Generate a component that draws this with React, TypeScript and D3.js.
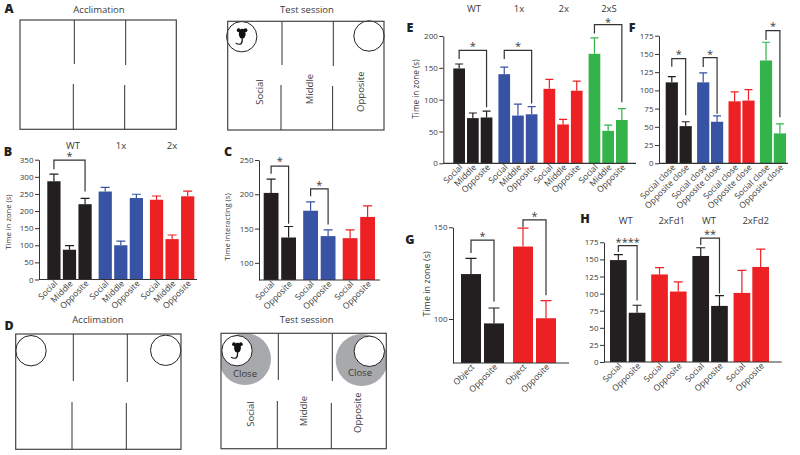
import React, { useEffect, useRef } from 'react';
import * as d3 from 'd3';

// bar heights and error tops
const threeZones = ['Social', 'Middle', 'Opposite'];
const twoZones = ['Social', 'Opposite'];
const closeZones = ['Social close', 'Opposite close'];
const objectZones = ['Object', 'Opposite'];

const bValues = [[287, 87, 220], [257, 100, 238], [233, 118, 243]];
const bErrors = [[308, 99, 237], [269, 112, 249], [244, 130, 258]];
const bTicks = [0, 50, 100, 150, 200, 250, 300, 350];

const cValues = [[202, 137], [176, 139], [136, 167]];
const cErrors = [[222, 153], [189, 148], [148, 183]];
const cTicks = [100, 150, 200, 250];

const eValues = [[149, 71, 72], [140, 75, 77], [117, 61, 114], [172, 51, 68]];
const eErrors = [[156, 79, 82], [151, 93, 89], [132, 69, 129], [197, 60, 86]];
const eTicks = [0, 50, 100, 150, 200];

const fValues = [[111, 51], [111, 57], [85, 86], [141, 41]];
const fErrors = [[119, 57], [124, 65], [98, 101], [166, 54]];
const fTicks = [0, 25, 50, 75, 100, 125, 150, 175];

const gValues = [[124.5, 97.6], [139.5, 100.4]];
const gErrors = [[133, 106], [149.5, 110]];
const gTicks = [100, 150];

const hValues = [[149, 72], [128, 103], [155, 82], [101, 139]];
const hErrors = [[157, 83], [138, 117], [167, 97], [134, 165]];
const hTicks = [0, 25, 50, 75, 100, 125, 150, 175];

const BLACK = '#231f20';
const BLUE = '#3953a4';
const RED = '#ed2024';
const GREEN = '#34b34a';
const INK = '#3a3a3a';

const panels = [
  {
    values: bValues, errors: bErrors, ticks: bTicks, zones: threeZones,
    colors: [BLACK, BLUE, RED], domain: [0, 350], yLabel: 'Time in zone (s)',
    axisX: 39, axisEnd: 197, y0: 279.5, yTop: 159.7, x0: 47.3, x1: 194.3, outerPad: 0.135, innerPad: 0.15, cap: 9,
    labelX: 9, labelY: 222, labelSize: 7.6, topY: 146,
    groups: [['WT', 73], ['1x', 121], ['2x', 172]],
    brackets: [{ from: 0, to: 2, top: 349, left: 322, right: 257, mark: '*', markOffset: 5 }],
  },
  {
    values: cValues, errors: cErrors, ticks: cTicks, zones: twoZones,
    colors: [BLACK, BLUE, RED], domain: [75, 250], yLabel: 'Time interacting (s)',
    axisX: 259, axisEnd: 380, y0: 280, yTop: 160, x0: 263.7, x1: 375, outerPad: 0.182, innerPad: 0.154, cap: 9,
    labelX: 228, labelY: 227, labelSize: 7.6, topY: 146, groups: [],
    brackets: [
      { from: 0, to: 1, top: 241, left: 230, right: 157, mark: '*', markOffset: 6 },
      { from: 2, to: 3, top: 208, left: 197, right: 156, mark: '*', markOffset: 5 },
    ],
  },
  {
    values: eValues, errors: eErrors, ticks: eTicks, zones: threeZones,
    colors: [BLACK, BLUE, RED, GREEN], domain: [0, 200], yLabel: 'Time in zone (s)',
    axisX: 443.3, axisEnd: 636, y0: 163.3, yTop: 36, x0: 453.3, x1: 627.7, outerPad: 0.133, innerPad: 0.146, cap: 8,
    labelX: 417, labelY: 89, labelSize: 8.2, topY: 9,
    groups: [['WT', 474], ['1x', 519], ['2x', 563.7], ['2xS', 609]],
    brackets: [
      { from: 0, to: 2, top: 177.5, left: 164, right: 88, mark: '*', markOffset: 5 },
      { from: 3, to: 5, top: 177.5, left: 164, right: 94, mark: '*', markOffset: 5 },
      { from: 9, to: 11, top: 218, left: 204, right: 96, mark: '*', markOffset: 4 },
    ],
  },
  {
    values: fValues, errors: fErrors, ticks: fTicks, zones: closeZones,
    colors: [BLACK, BLUE, RED, GREEN], domain: [0, 175], yLabel: '',
    axisX: 659, axisEnd: 788, y0: 163.3, yTop: 35.7, x0: 665.7, x1: 786, outerPad: 0.17, innerPad: 0.12, cap: 8,
    labelX: 0, labelY: 0, labelSize: 9, topY: 9, groups: [],
    brackets: [
      { from: 0, to: 1, top: 143.5, left: 132.5, right: 66, mark: '*', markOffset: 6 },
      { from: 2, to: 3, top: 145, left: 132, right: 68, mark: '*', markOffset: 5 },
      { from: 6, to: 7, top: 182, left: 169, right: 63, mark: '*', markOffset: 6 },
    ],
  },
  {
    values: gValues, errors: gErrors, ticks: gTicks, zones: objectZones,
    colors: [BLACK, RED], domain: [76, 150], yLabel: 'Time in zone (s)',
    axisX: 453, axisEnd: 569, y0: 363, yTop: 227.3, x0: 461, x1: 556, outerPad: 0.173, innerPad: 0.13, cap: 11,
    labelX: 428, labelY: 284, labelSize: 9, topY: 0, groups: [],
    brackets: [
      { from: 0, to: 1, top: 143, left: 136, right: 109.5, mark: '*', markOffset: 5 },
      { from: 2, to: 3, top: 154, left: 150, right: 113, mark: '*', markOffset: 5 },
    ],
  },
  {
    values: hValues, errors: hErrors, ticks: hTicks, zones: twoZones,
    colors: [BLACK, RED, BLACK, RED], domain: [0, 175], yLabel: '',
    axisX: 604, axisEnd: 781.7, y0: 362, yTop: 242.3, x0: 610, x1: 769, outerPad: 0.14, innerPad: 0.11, cap: 9,
    labelX: 0, labelY: 0, labelSize: 9, topY: 221.7,
    groups: [['WT', 625.7], ['2xFd1', 671.7], ['WT', 709], ['2xFd2', 755.7]],
    brackets: [
      { from: 0, to: 1, top: 170, left: 161, right: 90, mark: '****', markOffset: 5 },
      { from: 4, to: 5, top: 181, left: 171, right: 100, mark: '**', markOffset: 5 },
    ],
  },
];

const panelLetters = [
  ['A', 9, 10], ['B', 8, 153], ['C', 228, 153], ['D', 9, 327],
  ['E', 410, 29], ['F', 632, 29], ['G', 410, 241], ['H', 585, 220],
];

// arena schematics: chamber box, divider walls, cups and zone names
const arenas = [
  {
    title: 'Acclimation', titleX: 99, titleY: 10, box: [20, 20, 176.3, 129.3],
    walls: [[74.3, 64, 73.3, 84], [125.7, 65, 124.7, 85]], cups: [], halos: [], closes: [], mouse: null, zones: [],
  },
  {
    title: 'Test session', titleX: 307, titleY: 10, box: [227.7, 21.3, 384, 130],
    walls: [[282, 65, 281, 85], [333.3, 66, 332.6, 86]],
    cups: [[241.7, 36.7], [369, 36]], halos: [], closes: [], mouse: [241.7, 36.7],
    zones: [['Social', 260.7, 92], ['Middle', 310.7, 89], ['Opposite', 361.7, 91.7]],
  },
  {
    title: 'Acclimation', titleX: 98, titleY: 320.7, box: [15.7, 334, 181, 449.3],
    walls: [[73.3, 381, 72, 402], [127.3, 382, 126.3, 403]],
    cups: [[31, 350.7], [165.7, 350.3]], halos: [], closes: [], mouse: null, zones: [],
  },
  {
    title: 'Test session', titleX: 306.7, titleY: 320.7, box: [221, 333.3, 386.3, 448.7],
    walls: [[278.3, 380, 277.3, 401], [332.3, 381, 331.3, 403]],
    cups: [[237, 350.7], [369.3, 351.3]], halos: [[245, 359], [361.7, 360]],
    closes: [[245, 374], [360, 373]], mouse: [237, 350.7],
    zones: [['Social', 251.7, 414], ['Middle', 304, 411], ['Opposite', 358.3, 412.7]],
  },
];

const FONT = '"Open Sans", "Noto Sans", sans-serif';

function drawPanel(svg, p) {
  const y = d3.scaleLinear().domain(p.domain).range([p.y0, p.yTop]);
  const outer = d3.scaleBand().domain(d3.range(p.values.length)).range([p.x0, p.x1]).paddingInner(p.outerPad);
  const inner = d3.scaleBand().domain(d3.range(p.zones.length)).range([0, outer.bandwidth()]).paddingInner(p.innerPad);

  const bars = p.values.flatMap((group, g) =>
    group.map((v, i) => ({
      value: v,
      error: p.errors[g][i],
      zone: p.zones[i],
      color: p.colors[g],
      x: outer(g) + inner(i),
    }))
  );
  const cx = (d) => d.x + inner.bandwidth() / 2;

  const g = svg.append('g');

  g.selectAll('.err')
    .data(bars)
    .enter()
    .append('path')
    .attr('d', (d) => `M${cx(d)},${y(d.value)}V${y(d.error)}M${cx(d) - p.cap / 2},${y(d.error)}H${cx(d) + p.cap / 2}`)
    .attr('fill', 'none')
    .attr('stroke', (d) => d.color)
    .attr('stroke-width', 1.2);

  g.selectAll('.bar')
    .data(bars)
    .enter()
    .append('rect')
    .attr('x', (d) => d.x)
    .attr('y', (d) => y(d.value))
    .attr('width', inner.bandwidth())
    .attr('height', (d) => p.y0 - y(d.value))
    .attr('fill', (d) => d.color);

  const axis = g.append('g')
    .attr('transform', `translate(${p.axisX},0)`)
    .call(d3.axisLeft(y).tickValues(p.ticks).tickSize(4).tickPadding(1.5).tickFormat(d3.format('d')).tickSizeOuter(0));
  axis.selectAll('text').attr('font-family', FONT).attr('font-size', 8).attr('fill', INK);
  axis.selectAll('line,path').attr('stroke', '#333').attr('stroke-width', 1);

  g.append('line')
    .attr('x1', p.axisX).attr('x2', p.axisEnd)
    .attr('y1', p.y0).attr('y2', p.y0)
    .attr('stroke', '#333').attr('stroke-width', 1.2);

  g.selectAll('.zone')
    .data(bars)
    .enter()
    .append('text')
    .attr('transform', (d) => `translate(${cx(d) + 4},${p.y0 + 4.5}) rotate(-45)`)
    .attr('text-anchor', 'end')
    .attr('font-family', FONT)
    .attr('font-size', 8.5)
    .attr('fill', INK)
    .text((d) => d.zone);

  if (p.yLabel) {
    g.append('text')
      .attr('transform', `translate(${p.labelX},${p.labelY}) rotate(-90)`)
      .attr('text-anchor', 'middle')
      .attr('dominant-baseline', 'middle')
      .attr('font-family', FONT)
      .attr('font-size', p.labelSize)
      .attr('fill', INK)
      .text(p.yLabel);
  }

  g.selectAll('.group')
    .data(p.groups)
    .enter()
    .append('text')
    .attr('x', (d) => d[1])
    .attr('y', p.topY)
    .attr('text-anchor', 'middle')
    .attr('dominant-baseline', 'middle')
    .attr('font-family', FONT)
    .attr('font-size', 9.5)
    .attr('fill', INK)
    .text((d) => d[0]);

  p.brackets.forEach((b) => {
    const xa = cx(bars[b.from]);
    const xb = cx(bars[b.to]);
    g.append('path')
      .attr('d', `M${xa},${y(b.left)}V${y(b.top)}H${xb}V${y(b.right)}`)
      .attr('fill', 'none')
      .attr('stroke', '#333')
      .attr('stroke-width', 1.2);
    g.append('text')
      .attr('x', (xa + xb) / 2)
      .attr('y', y(b.top) - b.markOffset + 5)
      .attr('text-anchor', 'middle')
      .attr('font-family', FONT)
      .attr('font-size', 11)
      .attr('fill', INK)
      .text(b.mark);
  });
}

function drawMouse(svg, x, y) {
  const m = svg.append('g').attr('transform', `translate(${x},${y})`).attr('fill', '#111');
  m.append('ellipse').attr('cx', 0.5).attr('cy', -3).attr('rx', 3.4).attr('ry', 5);
  m.append('circle').attr('cx', -3).attr('cy', -6.5).attr('r', 1.9);
  m.append('circle').attr('cx', 3.8).attr('cy', -6.5).attr('r', 1.9);
  m.append('path')
    .attr('d', 'M0.5,1.5C1,7 -1,9 -6,6.5')
    .attr('fill', 'none')
    .attr('stroke', '#111')
    .attr('stroke-width', 1.2);
}

function drawArena(svg, a, index) {
  const [x0, y0, x1, y1] = a.box;
  const clipId = `arena-clip-${index}`;
  svg.append('clipPath').attr('id', clipId)
    .append('rect').attr('x', x0).attr('y', y0).attr('width', x1 - x0).attr('height', y1 - y0);

  a.halos.forEach(([x, y]) => {
    svg.append('circle')
      .attr('cx', x).attr('cy', y).attr('r', 26)
      .attr('fill', '#a7a9ac')
      .attr('clip-path', `url(#${clipId})`);
  });
  a.cups.forEach(([x, y]) => {
    svg.append('circle')
      .attr('cx', x).attr('cy', y).attr('r', 15.2)
      .attr('fill', '#fff').attr('stroke', '#222').attr('stroke-width', 1);
  });
  if (a.mouse) drawMouse(svg, a.mouse[0], a.mouse[1]);

  svg.append('rect')
    .attr('x', x0).attr('y', y0).attr('width', x1 - x0).attr('height', y1 - y0)
    .attr('fill', 'none').attr('stroke', '#444').attr('stroke-width', 1.2);

  a.walls.forEach(([xt, yt, xb, yb]) => {
    svg.append('path')
      .attr('d', `M${xt},${y0}V${yt}M${xb},${yb}V${y1}`)
      .attr('fill', 'none').attr('stroke', '#333').attr('stroke-width', 1);
  });

  const label = (sel) => sel
    .attr('text-anchor', 'middle')
    .attr('dominant-baseline', 'middle')
    .attr('font-family', FONT)
    .attr('fill', INK);

  svg.append('text').attr('x', a.titleX).attr('y', a.titleY).attr('font-size', 9.5).call(label).text(a.title);
  a.closes.forEach(([x, y]) => {
    svg.append('text').attr('x', x).attr('y', y).attr('font-size', 9.5).call(label).text('Close');
  });
  a.zones.forEach(([name, x, y]) => {
    svg.append('text')
      .attr('transform', `translate(${x},${y}) rotate(-90)`)
      .attr('font-size', 9.5)
      .call(label)
      .text(name);
  });
}

export default function App() {
  const ref = useRef(null);

  useEffect(() => {
    const svg = d3.select(ref.current);
    svg.selectAll('*').remove();

    arenas.forEach((a, i) => drawArena(svg, a, i));
    panels.forEach((p) => drawPanel(svg, p));

    svg.selectAll('.letter')
      .data(panelLetters)
      .enter()
      .append('text')
      .attr('x', (d) => d[1])
      .attr('y', (d) => d[2])
      .attr('text-anchor', 'middle')
      .attr('dominant-baseline', 'middle')
      .attr('font-family', FONT)
      .attr('font-weight', 800)
      .attr('font-size', 12.5)
      .attr('fill', '#222')
      .text((d) => d[0]);
  }, []);

  return (
    <svg
      ref={ref}
      width={800}
      height={455}
      style={{ position: 'absolute', left: 0, top: 0, background: 'white' }}
    />
  );
}
